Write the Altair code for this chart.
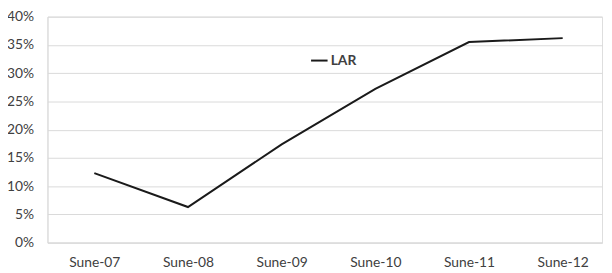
import altair as alt
import pandas as pd

categories = ["Sune-07", "Sune-08", "Sune-09", "Sune-10", "Sune-11", "Sune-12"]
lar_values = [0.123, 0.063, 0.174, 0.272, 0.355, 0.362]
series_name = "LAR"
y_ticks = [0, 0.05, 0.10, 0.15, 0.20, 0.25, 0.30, 0.35, 0.40]

df = pd.DataFrame({
    "idx": list(range(len(categories))),
    "cat": categories,
    "value": lar_values,
    "series": [series_name] * len(categories),
})

label_array = "[" + ",".join("'" + c + "'" for c in categories) + "]"

FONT = "Lato"
TXT = "#404040"

chart = alt.Chart(df).mark_line(strokeWidth=2, color="#1a1a1a").encode(
    x=alt.X("idx:Q",
            scale=alt.Scale(domain=[-0.5, len(categories) - 0.58], nice=False, zero=False),
            axis=alt.Axis(values=list(range(len(categories))), labelExpr=label_array + "[datum.value]",
                          title=None, grid=False, ticks=False, labelPadding=13,
                          domainColor="#d9d9d9", labelFont=FONT, labelFontSize=14, labelColor=TXT)),
    y=alt.Y("value:Q",
            scale=alt.Scale(domain=[0, 0.4], nice=False),
            axis=alt.Axis(values=y_ticks, format=".0%", title=None, ticks=False, labelPadding=14,
                          gridColor="#d9d9d9", domainColor="#d9d9d9", labelFont=FONT,
                          labelFontSize=14, labelColor=TXT)),
    color=alt.Color("series:N", scale=alt.Scale(range=["#1a1a1a"]),
                    legend=alt.Legend(title=None, orient="none", legendX=266, legendY=35,
                                      symbolType="stroke", symbolSize=280, symbolStrokeWidth=2,
                                      labelFont=FONT, labelFontSize=14, labelFontWeight="bold",
                                      labelColor=TXT, padding=0, labelOffset=2)),
).properties(
    width=562,
    height=229,
    autosize=alt.AutoSizeParams(type="none"),
    padding={"left": 40, "top": 7, "right": 2, "bottom": 28},
).configure_view(stroke=None).configure(background="white")

chart.save("out.html", embed_options={"renderer": "svg", "actions": False})
